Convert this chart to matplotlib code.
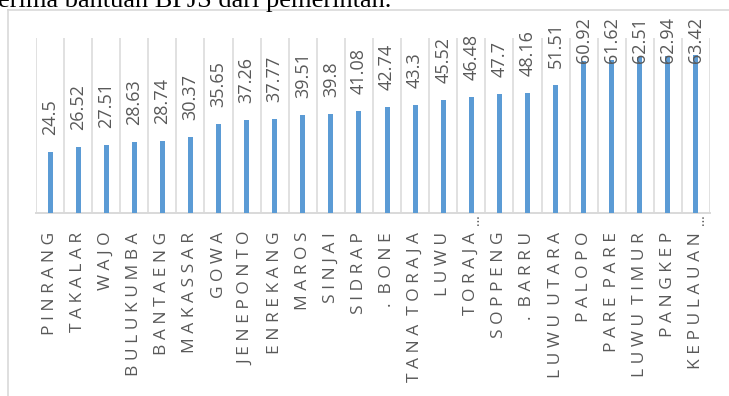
import matplotlib
matplotlib.use("Agg")
import matplotlib.pyplot as plt
from matplotlib.lines import Line2D
from matplotlib.transforms import blended_transform_factory

# Data: regencies / cities and their percentages
categories = ["PINRANG", "TAKALAR", "WAJO", "BULUKUMBA", "BANTAENG", "MAKASSAR",
              "GOWA", "JENEPONTO", "ENREKANG", "MAROS", "SINJAI", "SIDRAP",
              ". BONE", "TANA TORAJA", "LUWU", "TORAJA…", "SOPPENG", ". BARRU",
              "LUWU UTARA", "PALOPO", "PARE PARE", "LUWU TIMUR", "PANGKEP",
              "KEPULAUAN…"]
values = [24.5, 26.52, 27.51, 28.63, 28.74, 30.37, 35.65, 37.26, 37.77, 39.51,
          39.8, 41.08, 42.74, 43.3, 45.52, 46.48, 47.7, 48.16, 51.51, 60.92,
          61.62, 62.51, 62.94, 63.42]
value_labels = ["24.5", "26.52", "27.51", "28.63", "28.74", "30.37", "35.65",
                "37.26", "37.77", "39.51", "39.8", "41.08", "42.74", "43.3",
                "45.52", "46.48", "47.7", "48.16", "51.51", "60.92", "61.62",
                "62.51", "62.94", "63.42"]
caption = "erima bantuan BPJS dari pemerintah."

W, H, DPI = 729, 396, 100
fig = plt.figure(figsize=(W / DPI, H / DPI), dpi=DPI)
fig.patch.set_facecolor("white")

# caption line of the surrounding document
fig.text(-0.003, 1 - 7 / H, caption, family="Liberation Serif", fontsize=19,
         color="black", va="baseline", ha="left")

# outer chart frame (left and top edges)
frame_c = "#D9D9D9"
fig.add_artist(Line2D([7.5 / W, 7.5 / W], [0, 1 - 10 / H], color=frame_c, lw=1.2,
                      transform=fig.transFigure))
fig.add_artist(Line2D([7.5 / W, 1], [1 - 10 / H, 1 - 10 / H], color=frame_c, lw=1.2,
                      transform=fig.transFigure))

ax_l, ax_r, ax_t, ax_b = 36, 710, 38, 213
ax = fig.add_axes([ax_l / W, 1 - ax_b / H, (ax_r - ax_l) / W, (ax_b - ax_t) / H])

n = len(categories)
x = list(range(n))
ax.bar(x, values, width=0.18, color="#5B9BD5", zorder=3)

ymax = 70.3
ax.set_xlim(-0.5, n - 0.5)
ax.set_ylim(0, ymax)

# vertical gridlines between categories
for b in range(n + 1):
    ax.axvline(b - 0.5, color="#D9D9D9", lw=1.1, zorder=1)

for s in ["left", "right", "top"]:
    ax.spines[s].set_visible(False)
ax.spines["bottom"].set_color("#D9D9D9")
ax.spines["bottom"].set_linewidth(1.4)
ax.set_xticks([])
ax.set_yticks([])
ax.patch.set_alpha(0)

# value labels above each bar, kept inside the chart area
px_per_unit = (ax_b - ax_t) / ymax
gap = 17 / px_per_unit
cap = (ax_b - 63) / px_per_unit
for xi, v, lab in zip(x, values, value_labels):
    ax.text(xi, min(v + gap, cap), lab, rotation=90, ha="center", va="bottom",
            family="Open Sans", fontsize=13, color="#595959", clip_on=False,
            zorder=4)

# letter-spaced category labels
trans = blended_transform_factory(ax.transData, ax.transAxes)
top_y = -(232 - ax_b) / (ax_b - ax_t)
dots_y = -(214 - ax_b) / (ax_b - ax_t)
letter_gap = " "
word_gap = "  "
for xi, name in zip(x, categories):
    truncated = name.endswith("…")
    base = name.rstrip("…")
    spaced = word_gap.join(letter_gap.join(word) for word in base.split(" "))
    ax.text(xi, top_y, spaced, rotation=90, ha="center", va="top",
            family="Open Sans", fontsize=12.5, color="#595959",
            transform=trans, clip_on=False)
    if truncated:
        ax.text(xi + 0.15, dots_y, "…", rotation=90, ha="center", va="top",
                family="Open Sans", fontsize=10, color="#595959",
                transform=trans, clip_on=False)

fig.savefig("out.png", dpi=DPI, facecolor="white")
